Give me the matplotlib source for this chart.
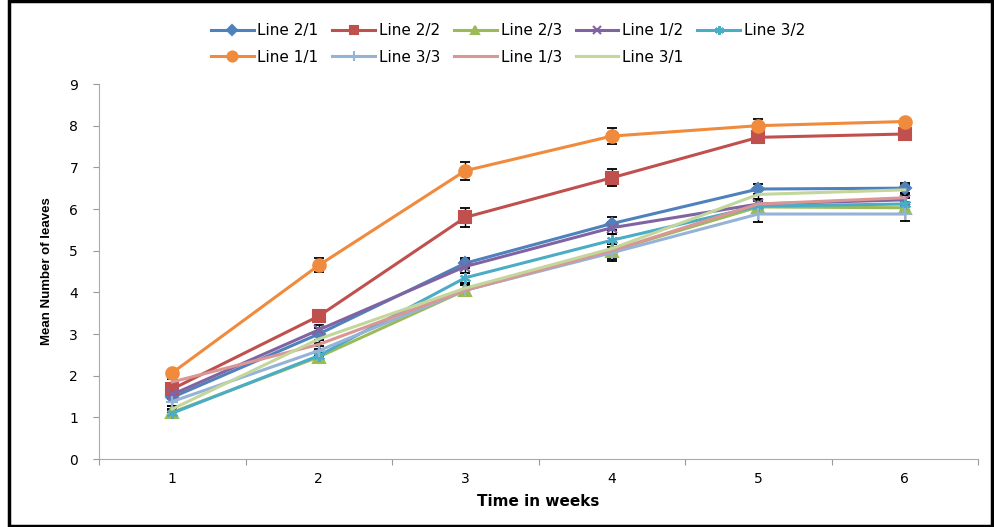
import numpy as np
import matplotlib.pyplot as plt
from matplotlib.patches import Rectangle

# weeks and mean leaf counts
weeks = [1, 2, 3, 4, 5, 6]

line_2_1 = [1.48, 3.00, 4.70, 5.65, 6.48, 6.50]
line_2_2 = [1.68, 3.43, 5.80, 6.75, 7.72, 7.80]
line_2_3 = [1.12, 2.45, 4.05, 5.00, 6.05, 6.03]
line_1_2 = [1.55, 3.10, 4.62, 5.55, 6.12, 6.22]
line_3_2 = [1.10, 2.48, 4.35, 5.25, 6.07, 6.12]
line_1_1 = [2.07, 4.65, 6.92, 7.75, 8.00, 8.10]
line_3_3 = [1.38, 2.60, 4.05, 4.95, 5.88, 5.88]
line_1_3 = [1.85, 2.75, 4.05, 5.00, 6.12, 6.27]
line_3_1 = [1.20, 2.88, 4.10, 5.05, 6.35, 6.46]

err_2_1 = [0.10, 0.15, 0.12, 0.15, 0.12, 0.12]
err_2_2 = [0.12, 0.15, 0.22, 0.20, 0.12, 0.15]
err_2_3 = [0.08, 0.10, 0.12, 0.20, 0.15, 0.15]
err_1_2 = [0.10, 0.12, 0.15, 0.15, 0.12, 0.12]
err_3_2 = [0.08, 0.10, 0.12, 0.15, 0.15, 0.15]
err_1_1 = [0.05, 0.17, 0.22, 0.20, 0.15, 0.05]
err_3_3 = [0.10, 0.12, 0.12, 0.20, 0.18, 0.17]
err_1_3 = [0.08, 0.10, 0.12, 0.15, 0.12, 0.12]
err_3_1 = [0.08, 0.10, 0.12, 0.15, 0.12, 0.12]

fig = plt.figure(figsize=(9.95, 5.27), dpi=100)
ax = fig.add_axes([0.0995, 0.129, 0.8835, 0.7116])

series = [
    ("Line 2/1", line_2_1, err_2_1, "#4F81BD", "D", 6),
    ("Line 2/2", line_2_2, err_2_2, "#C0504D", "s", 8),
    ("Line 2/3", line_2_3, err_2_3, "#9BBB59", "^", 8),
    ("Line 1/2", line_1_2, err_1_2, "#8064A2", "x", 7),
    ("Line 3/2", line_3_2, err_3_2, "#4BACC6", (6, 2, 0), 8),
    ("Line 1/1", line_1_1, err_1_1, "#F08A3C", "o", 9),
    ("Line 3/3", line_3_3, err_3_3, "#95B3D7", "+", 9),
    ("Line 1/3", line_1_3, err_1_3, "#D99694", None, 0),
    ("Line 3/1", line_3_1, err_3_1, "#C3D69B", None, 0),
]

handles = {}
for name, vals, err, col, mk, ms in series:
    ax.errorbar(weeks, vals, yerr=err, fmt="none", ecolor="black",
                elinewidth=1.0, capsize=3.5, capthick=1.3, zorder=1)
    h, = ax.plot(weeks, vals, color=col, marker=mk, markersize=ms,
                 markeredgewidth=1.5, linewidth=2.2, label=name, zorder=2)
    handles[name] = h

ax.set_xlim(0.5, 6.5)
ax.set_ylim(0, 9)
ax.set_yticks(range(0, 10))
ax.set_xticks(weeks, minor=True)
ax.set_xticks([0.5, 1.5, 2.5, 3.5, 4.5, 5.5, 6.5])
ax.set_xticklabels([])
ax.set_xticklabels([str(w) for w in weeks], minor=True)
ax.tick_params(axis="x", which="minor", length=0, pad=9, labelsize=10)
ax.tick_params(axis="x", which="major", length=4, color="#999999", direction="out")
ax.tick_params(axis="y", length=4, color="#999999", labelsize=10, pad=11)

for s in ["top", "right"]:
    ax.spines[s].set_visible(False)
for s in ["left", "bottom"]:
    ax.spines[s].set_color("#AAAAAA")

ax.set_xlabel("Time in weeks", fontweight="bold", fontsize=11, labelpad=6)
ax.set_ylabel("Mean Number of leaves", fontweight="bold", fontsize=9.5,
              family="Liberation Sans", labelpad=12)

# legend fills columns, so reorder to get the reference's row order
order = ["Line 2/1", "Line 1/1", "Line 2/2", "Line 3/3", "Line 2/3",
         "Line 1/3", "Line 1/2", "Line 3/1", "Line 3/2"]
fig.legend([handles[n] for n in order], order, ncol=5, frameon=False,
           loc="upper left", bbox_to_anchor=(0.198, 0.982), fontsize=11,
           handlelength=2.8, columnspacing=0.9, handletextpad=0.25,
           labelspacing=0.75, markerscale=0.8)

fig.patches.append(Rectangle((0.009, 0.002), 0.988, 0.996, transform=fig.transFigure,
                             fill=False, edgecolor="black", linewidth=2.5))

fig.savefig("out.png", dpi=100)
